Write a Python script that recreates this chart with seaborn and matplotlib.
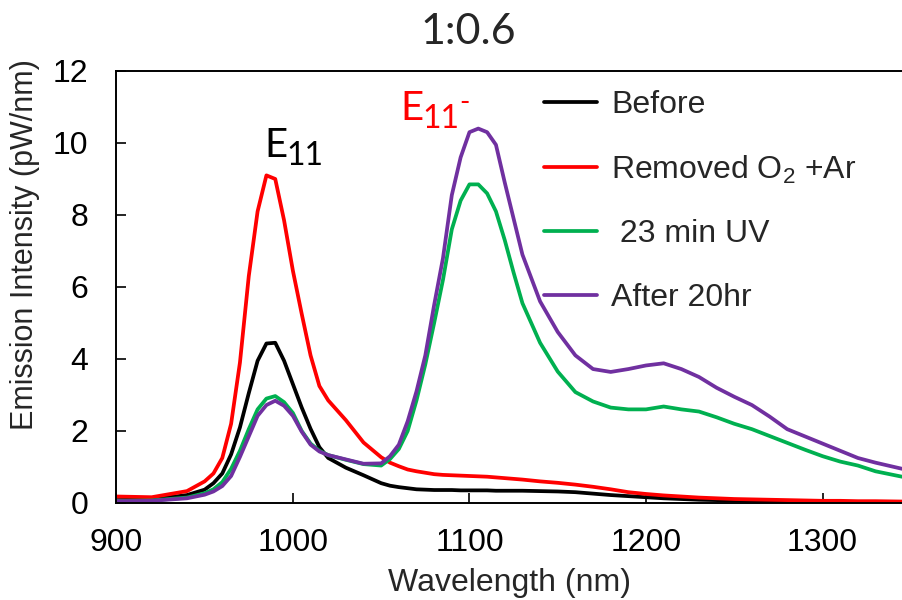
import numpy as np
import pandas as pd
import matplotlib
matplotlib.use("Agg")
import matplotlib.pyplot as plt
import seaborn as sns

# Wavelength grid (nm) and emission intensities (pW/nm)
wavelength = [900, 920, 940, 950, 955, 960, 965, 970, 975, 980, 985, 990, 995,
              1000, 1005, 1010, 1015, 1020, 1030, 1040, 1050, 1055, 1060, 1065,
              1070, 1075, 1080, 1085, 1090, 1095, 1100, 1105, 1110, 1115, 1120,
              1125, 1130, 1140, 1150, 1160, 1170, 1180, 1190, 1200, 1210, 1220,
              1230, 1240, 1250, 1260, 1270, 1280, 1290, 1300, 1310, 1320, 1330, 1345]

before = [0.08, 0.10, 0.22, 0.37, 0.55, 0.82, 1.35, 2.10, 3.05, 3.95, 4.43, 4.45, 3.95,
          3.30, 2.65, 2.06, 1.55, 1.25, 0.98, 0.77, 0.55, 0.48, 0.44, 0.41,
          0.38, 0.37, 0.36, 0.36, 0.36, 0.35, 0.35, 0.35, 0.35, 0.34, 0.34,
          0.34, 0.34, 0.33, 0.32, 0.30, 0.26, 0.22, 0.19, 0.16, 0.13, 0.11,
          0.09, 0.08, 0.07, 0.06, 0.05, 0.05, 0.04, 0.04, 0.03, 0.03, 0.03, 0.03]

removed_o2 = [0.18, 0.16, 0.33, 0.60, 0.82, 1.25, 2.20, 3.90, 6.30, 8.10, 9.10, 9.00, 7.85,
              6.45, 5.25, 4.10, 3.25, 2.85, 2.30, 1.68, 1.27, 1.12, 1.02, 0.93,
              0.88, 0.84, 0.80, 0.78, 0.77, 0.76, 0.75, 0.74, 0.73, 0.71, 0.69,
              0.67, 0.65, 0.60, 0.56, 0.51, 0.45, 0.38, 0.30, 0.25, 0.21, 0.18,
              0.15, 0.13, 0.11, 0.10, 0.09, 0.08, 0.07, 0.06, 0.06, 0.05, 0.05, 0.04]

uv_23min = [0.06, 0.07, 0.15, 0.27, 0.38, 0.58, 0.95, 1.45, 2.05, 2.60, 2.90, 2.97, 2.80,
            2.50, 2.00, 1.65, 1.45, 1.33, 1.20, 1.08, 1.04, 1.22, 1.50, 2.00,
            2.85, 3.85, 5.00, 6.20, 7.60, 8.40, 8.85, 8.85, 8.60, 8.10, 7.30,
            6.40, 5.55, 4.45, 3.65, 3.08, 2.82, 2.65, 2.60, 2.60, 2.68, 2.60,
            2.54, 2.38, 2.20, 2.05, 1.86, 1.67, 1.48, 1.30, 1.15, 1.04, 0.88, 0.73]

after_20hr = [0.05, 0.06, 0.13, 0.23, 0.32, 0.47, 0.75, 1.28, 1.85, 2.42, 2.72, 2.84, 2.70,
              2.42, 1.98, 1.62, 1.43, 1.33, 1.21, 1.09, 1.10, 1.30, 1.62, 2.27,
              3.10, 4.10, 5.50, 6.80, 8.55, 9.60, 10.30, 10.40, 10.30, 9.95, 8.90,
              7.90, 6.90, 5.60, 4.75, 4.10, 3.72, 3.64, 3.72, 3.82, 3.88, 3.72,
              3.50, 3.20, 2.95, 2.72, 2.40, 2.05, 1.85, 1.65, 1.45, 1.25, 1.12, 0.95]

labels = ["Before", "Removed O$\\mathregular{_2}$ +Ar", " 23 min UV", "After 20hr"]
colors = ["#000000", "#FF0000", "#00B050", "#7030A0"]
series = [before, removed_o2, uv_23min, after_20hr]

sns.set_style("ticks")
plt.rcParams["font.family"] = ["Liberation Sans", "DejaVu Sans"]
plt.rcParams["mathtext.fontset"] = "custom"
plt.rcParams["mathtext.rm"] = "Liberation Sans"

fig = plt.figure(figsize=(9.02, 6.0), dpi=100)
ax = fig.add_axes([0.129, 0.1617, 0.871, 0.72])

for vals, lab, col in zip(series, labels, colors):
    df = pd.DataFrame({"wl": wavelength, "val": vals})
    sns.lineplot(data=df, x="wl", y="val", color=col, lw=2.7, label=lab, ax=ax)

ax.set_xlim(900, 1345)
ax.set_ylim(0, 12)
ax.set_xticks([900, 1000, 1100, 1200, 1300])
ax.set_yticks(range(0, 13, 2))
ax.tick_params(axis="both", direction="in", length=7, width=1.2, labelsize=23, colors="black")
ax.tick_params(axis="x", pad=18)
ax.tick_params(axis="y", pad=20)
for s in ["left", "bottom", "top"]:
    ax.spines[s].set_linewidth(1.4)
    ax.spines[s].set_color("black")
ax.spines["right"].set_visible(False)

ax.set_xlabel("Wavelength (nm)", fontsize=23, labelpad=7)
ax.set_ylabel("Emission Intensity (pW/nm)", fontsize=22)
ax.yaxis.set_label_coords(-0.097, 0.599)

# Peak annotations
cal = ["Lato", "DejaVu Sans"]
ax.text(983.9, 9.61, "E", fontsize=29, family=cal, color="black", ha="left", va="baseline")
ax.text(996.2, 9.39, "11", fontsize=23, family=cal, color="black", ha="left", va="baseline")
ax.text(1061.0, 10.64, "E", fontsize=29, family=cal, color="red", ha="left", va="baseline")
ax.text(1073.2, 10.41, "11", fontsize=23, family=cal, color="red", ha="left", va="baseline")
ax.text(1097.3, 10.9, "-", fontsize=20, family=cal, color="red", ha="center", va="baseline")

fig.suptitle("1:0.6", x=0.519, y=0.978, fontsize=31, family=cal, va="top")

ax.legend(loc="upper left", bbox_to_anchor=(0.603, 0.85), bbox_transform=fig.transFigure,
          frameon=False, fontsize=23, handlelength=1.65, handletextpad=0.45,
          labelspacing=1.05, borderpad=0, borderaxespad=0)

fig.savefig("out.png", dpi=100)
